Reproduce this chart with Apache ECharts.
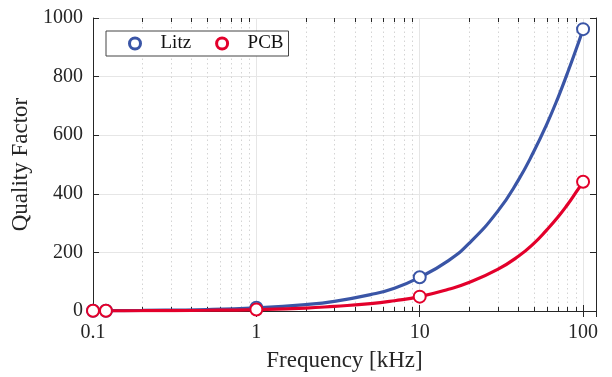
<!DOCTYPE html>
<html>
<head>
<meta charset="utf-8">
<script src="https://cdn.jsdelivr.net/npm/echarts@6/dist/echarts.min.js"></script>
<style>
html,body{margin:0;padding:0;background:#fff;}
#chart{width:612px;height:377px;}
</style>
</head>
<body>
<div id="chart"></div>
<script>
// Measured points (markers)
const freq = [0.1, 0.12, 1, 10, 100];
const litzQ = [1, 1, 11, 115, 962];
const pcbQ = [1, 1, 5, 49, 441];

// Fitted curves
const curveFreq = [0.1, 0.12, 0.2, 0.5, 1, 2, 3, 5, 7, 10, 15, 20, 30, 40, 50, 60, 70, 80, 90, 100];
const litzCurve = [1, 1.2, 2, 5, 11, 22, 33, 56, 78, 115, 172, 230, 340, 445, 545, 638, 726, 810, 888, 962];
const pcbCurve = [0.5, 0.6, 1, 2.5, 5, 10, 16, 25, 35, 49, 74, 97, 142, 186, 231, 277, 320, 362, 403, 441];

// Axis ticks
const xMin = 0.1, xMax = 120;
const minorTicks = [0.2,0.3,0.4,0.5,0.6,0.7,0.8,0.9,2,3,4,5,6,7,8,9,20,30,40,50,60,70,80,90];

const blue = '#3a55a6';
const red = '#e3002b';
const font = 'Liberation Serif';
const axisColor = '#262626';

const chart = echarts.init(document.getElementById('chart'), null, {renderer: 'canvas'});

const pairs = (xs, ys) => xs.map((x, i) => [x, ys[i]]);

const option = {
  animation: false,
  backgroundColor: '#fff',
  grid: {left: 93, right: 16, top: 18, bottom: 66, containLabel: false},
  legend: {
    left: 106, top: 31,
    orient: 'horizontal',
    padding: [3, 5, 3, 22],
    itemGap: 24,
    itemWidth: 11, itemHeight: 11,
    backgroundColor: '#fff',
    borderColor: '#444',
    borderWidth: 1,
    borderRadius: 0,
    textStyle: {fontFamily: font, fontSize: 19, color: '#111', padding: [0, 0, 0, 15]},
    data: [
      {name: 'Litz', icon: 'circle', itemStyle: {color: '#fff', borderColor: blue, borderWidth: 3, opacity: 1}},
      {name: 'PCB', icon: 'circle', itemStyle: {color: '#fff', borderColor: red, borderWidth: 3, opacity: 1}}
    ]
  },
  xAxis: [{
    type: 'log', logBase: 10, min: xMin, max: xMax,
    name: 'Frequency [kHz]', nameLocation: 'middle', nameGap: 38,
    nameTextStyle: {fontFamily: font, fontSize: 23, color: axisColor},
    axisLine: {show: true, lineStyle: {color: axisColor, width: 1}},
    axisTick: {show: true, inside: true, length: 6, lineStyle: {color: axisColor}},
    axisLabel: {fontFamily: font, fontSize: 20, color: axisColor, margin: 12, showMaxLabel: false},
    splitLine: {show: true, lineStyle: {color: '#e6e6e6', width: 1}},
    minorTick: {show: false}
  }, {
    type: 'log', logBase: 10, min: xMin, max: xMax, position: 'top',
    axisLine: {show: true, lineStyle: {color: axisColor, width: 1}},
    axisTick: {show: true, inside: true, length: 6, lineStyle: {color: axisColor}},
    axisLabel: {show: false},
    splitLine: {show: false}
  }],
  yAxis: [{
    type: 'value', min: 0, max: 1000, interval: 200,
    name: 'Quality Factor', nameLocation: 'middle', nameGap: 47,
    nameTextStyle: {fontFamily: font, fontSize: 23, color: axisColor},
    axisLine: {show: true, lineStyle: {color: axisColor, width: 1}},
    axisTick: {show: true, inside: true, length: 6, lineStyle: {color: axisColor}},
    axisLabel: {fontFamily: font, fontSize: 20, color: axisColor, margin: 10,
                formatter: v => String(v)},
    splitLine: {show: true, lineStyle: {color: '#e6e6e6', width: 1}}
  }, {
    type: 'value', min: 0, max: 1000, interval: 200, position: 'right',
    axisLine: {show: true, lineStyle: {color: axisColor, width: 1}},
    axisTick: {show: true, inside: true, length: 6, lineStyle: {color: axisColor}},
    axisLabel: {show: false},
    splitLine: {show: false}
  }],
  series: [
    {
      name: 'minor',
      type: 'custom',
      silent: true,
      z: 1,
      xAxisIndex: 0, yAxisIndex: 0,
      data: minorTicks.map(v => [v]),
      encode: {x: 0},
      renderItem: function (params, api) {
        const cs = params.coordSys;
        const x = Math.round(api.coord([api.value(0), 1])[0]) + 0.5;
        const top = cs.y, bottom = cs.y + cs.height;
        return {
          type: 'group',
          children: [
            {type: 'line', shape: {x1: x, y1: top, x2: x, y2: bottom},
             style: {stroke: '#d4d4d4', lineWidth: 1, lineDash: [1.5, 3]}},
            {type: 'line', shape: {x1: x, y1: bottom, x2: x, y2: bottom - 4},
             style: {stroke: axisColor, lineWidth: 1}},
            {type: 'line', shape: {x1: x, y1: top, x2: x, y2: top + 4},
             style: {stroke: axisColor, lineWidth: 1}}
          ]
        };
      }
    },
    {
      name: 'Litz fit', type: 'line', data: pairs(curveFreq, litzCurve),
      showSymbol: false, symbol: 'none', smooth: 0.5,
      lineStyle: {color: blue, width: 3.2}, itemStyle: {color: blue}, z: 3
    },
    {
      name: 'PCB fit', type: 'line', data: pairs(curveFreq, pcbCurve),
      showSymbol: false, symbol: 'none', smooth: 0.5,
      lineStyle: {color: red, width: 3.2}, itemStyle: {color: red}, z: 4
    },
    {
      name: 'Litz', type: 'scatter', data: pairs(freq, litzQ),
      symbol: 'emptyCircle', symbolSize: 12,
      itemStyle: {color: blue, borderColor: blue, borderWidth: 3, opacity: 1}, z: 5
    },
    {
      name: 'PCB', type: 'scatter', data: pairs(freq, pcbQ),
      symbol: 'emptyCircle', symbolSize: 12,
      itemStyle: {color: red, borderColor: red, borderWidth: 3, opacity: 1}, z: 6
    }
  ]
};
chart.setOption(option);
</script>
</body>
</html>
